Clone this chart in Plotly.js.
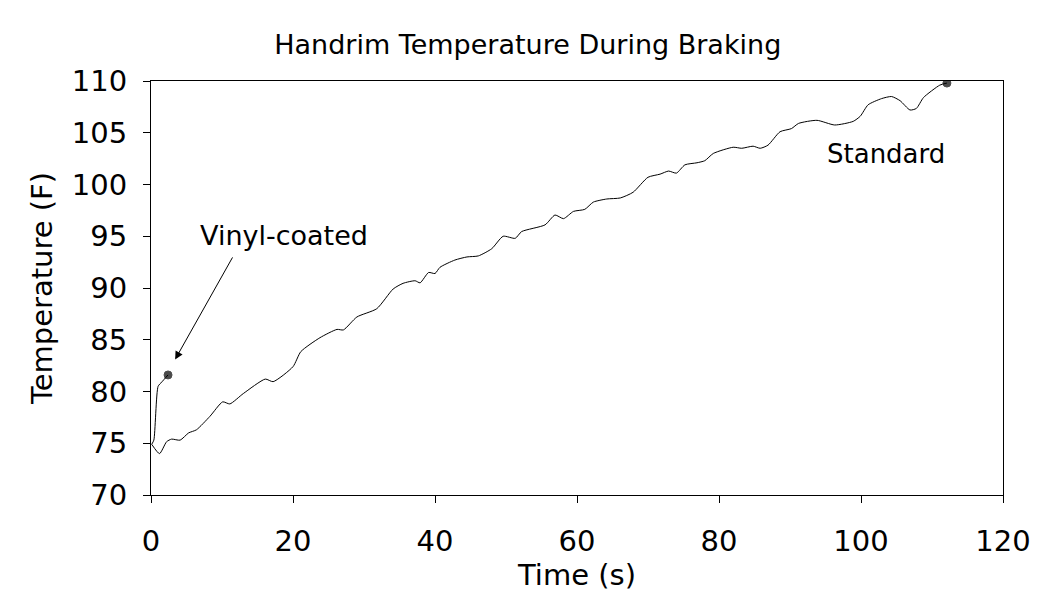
<!DOCTYPE html>
<html>
<head>
<meta charset="utf-8">
<script src="https://cdn.plot.ly/plotly-3.0.1.min.js"></script>
<style>html,body{margin:0;padding:0;background:#fff;}#chart{width:1043px;height:608px;}</style>
</head>
<body>
<div id="chart"></div>
<script>
// Standard handrim
const standardTime = [0.1,1.2,2.2,2.9,4.1,5.3,6.4,8.3,10.1,11.1,13.0,16.1,17.2,20.0,21.1,23.8,26.2,27.1,29.0,31.8,34.1,35.5,37.2,37.9,39.1,40.0,40.7,42.8,44.5,46.1,48.0,49.6,51.3,52.2,55.5,56.9,58.1,59.5,61.1,62.3,64.2,66.1,67.9,70.0,71.7,72.9,74.0,75.2,76.9,78.0,79.2,82.0,83.2,84.8,85.8,86.9,88.6,90.2,91.2,93.8,96.3,98.9,99.9,101.0,102.9,104.3,105.5,106.9,107.8,108.8,111.1,112.1];
const standardTemp = [74.9,74.0,75.15,75.4,75.3,76.0,76.3,77.6,79.0,78.8,79.8,81.2,80.95,82.4,83.85,85.2,86.0,85.95,87.2,88.0,89.9,90.45,90.7,90.5,91.5,91.4,92.0,92.7,93.0,93.1,93.8,95.0,94.8,95.45,96.1,97.05,96.7,97.4,97.6,98.3,98.6,98.7,99.25,100.7,101.0,101.3,101.1,101.9,102.1,102.3,103.0,103.6,103.5,103.7,103.5,103.8,105.1,105.4,105.9,106.2,105.75,106.1,106.6,107.7,108.3,108.5,108.1,107.2,107.35,108.4,109.6,109.8];
// Vinyl-coated handrim
const vinylTime = [0.1,0.4,1.0,1.5,2.4];
const vinylTemp = [74.9,75.3,80.5,80.9,81.6];

const chartTitle = "Handrim Temperature During Braking";
const xTitle = "Time (s)";
const yTitle = "Temperature (F)";
const labelVinyl = "Vinyl-coated";
const labelStandard = "Standard";

function endMarkers(n){ return Array.from({length:n},(_,i)=> i===n-1 ? 8 : 0); }

const font = "'DejaVu Sans', sans-serif";

const traces = [
  {x: standardTime, y: standardTemp, mode: 'lines+markers', line:{color:'#000', width:1, shape:'spline', smoothing:0.6},
   marker:{color:'#000', size:endMarkers(standardTime.length), line:{color:'#000', width:1}}, showlegend:false, hoverinfo:'skip'},
  {x: vinylTime, y: vinylTemp, mode: 'lines+markers', line:{color:'#000', width:1, shape:'spline', smoothing:0.6},
   marker:{color:'#000', size:endMarkers(vinylTime.length), line:{color:'#000', width:1}}, showlegend:false, hoverinfo:'skip'}
];

const layout = {
  width:1043, height:608,
  margin:{l:151, r:40, t:81, b:113},
  paper_bgcolor:'#fff', plot_bgcolor:'#fff',
  font:{family:font, color:'#000'},
  title:{text:chartTitle, font:{family:font, size:27, color:'#000'}, x:0.506, xanchor:'center', y:0.926, yanchor:'middle'},
  xaxis:{range:[0,120], dtick:20, tick0:0, showgrid:false, zeroline:false,
    showline:true, linecolor:'#000', linewidth:1, mirror:true,
    ticks:'outside', ticklen:7, tickcolor:'#000', tickfont:{family:font, size:29},
    ticklabelstandoff:13,
    title:{text:xTitle, font:{family:font, size:29}, standoff:4}},
  yaxis:{range:[70,110], dtick:5, tick0:70, showgrid:false, zeroline:false,
    showline:true, linecolor:'#000', linewidth:1, mirror:true,
    ticks:'outside', ticklen:7, tickcolor:'#000', tickfont:{family:font, size:29},
    ticklabelstandoff:10,
    title:{text:yTitle, font:{family:font, size:29}, standoff:10}},
  annotations:[
    {x:3.4, y:83.1, ax:11.6, ay:93.1, axref:'x', ayref:'y', xref:'x', yref:'y',
     showarrow:true, arrowhead:2, arrowsize:1.6, arrowwidth:1, arrowcolor:'#000', text:''},
    {x:18.8, y:95.1, xref:'x', yref:'y', text:labelVinyl, showarrow:false, font:{family:font, size:27, color:'#000'}},
    {x:103.5, y:102.9, xref:'x', yref:'y', text:labelStandard, showarrow:false, font:{family:font, size:26, color:'#000'}}
  ]
};

Plotly.newPlot('chart', traces, layout, {displayModeBar:false, staticPlot:true});
</script>
</body>
</html>
